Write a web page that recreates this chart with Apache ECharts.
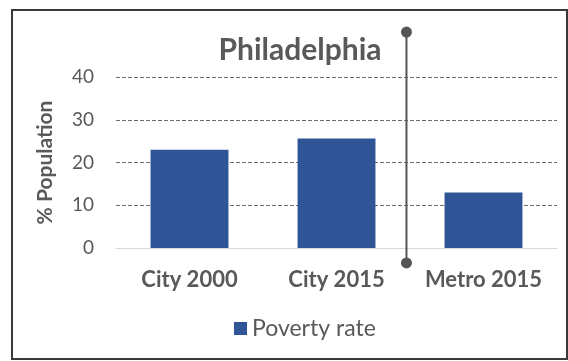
<!DOCTYPE html>
<html>
<head>
<meta charset="utf-8">
<script src="https://cdn.jsdelivr.net/npm/echarts@6/dist/echarts.min.js"></script>
<style>
  html, body { margin: 0; padding: 0; background: #fff; }
  #frame { position: absolute; left: 11px; top: 9px; width: 553px; height: 347px; border: 2px solid #3a3a3a; }
  #chart { position: absolute; left: 0; top: 0; width: 568px; height: 361px; }
</style>
</head>
<body>
<div id="frame"></div>
<div id="chart"></div>
<script>
// Poverty rate, share of population (%)
const categories = ['City 2000', 'City 2015', 'Metro 2015'];
const povertyRate = [23, 25.6, 13];
const yTicks = { min: 0, max: 40, interval: 10 };

// Divider between city and metro figures (x in category units, y in % units)
const dividerX = [1.976, 1.976];
const dividerY = [50.5, -3.5];

const FONT = 'Lato, "Open Sans", sans-serif';
const GREY = '#595959';

const chart = echarts.init(document.getElementById('chart'), null, { renderer: 'canvas' });
chart.setOption({
  animation: false,
  title: {
    text: 'Philadelphia',
    left: 295, top: 30, textAlign: 'center',
    textStyle: { fontFamily: FONT, fontSize: 30, fontWeight: 'bold', color: GREY }
  },
  legend: {
    top: 312, left: 229,
    itemWidth: 13, itemHeight: 13, itemGap: 6,
    icon: 'rect',
    textStyle: { fontFamily: FONT, fontSize: 23, color: GREY },
    data: ['Poverty rate']
  },
  grid: { left: 116, right: 11, top: 77, bottom: 113 },
  xAxis: [
    {
      type: 'category', data: categories,
      axisLine: { show: true, lineStyle: { color: '#d9d9d9', width: 1 } },
      axisTick: { show: false },
      axisLabel: { interval: 0, hideOverlap: false, margin: 21, fontFamily: FONT, fontSize: 22, fontWeight: 'bold', color: GREY }
    },
    { type: 'value', min: 0, max: 3, show: false }
  ],
  yAxis: {
    type: 'value', min: yTicks.min, max: yTicks.max, interval: yTicks.interval,
    name: '% Population', nameLocation: 'middle', nameGap: 60, nameRotate: 90,
    nameTextStyle: { fontFamily: FONT, fontSize: 21, fontWeight: 'bold', color: GREY },
    axisLine: { show: false }, axisTick: { show: false },
    axisLabel: { margin: 22, fontFamily: FONT, fontSize: 19, color: GREY },
    splitLine: { lineStyle: { type: [4, 2], color: '#6e6e6e', width: 1 } }
  },
  series: [
    {
      name: 'Poverty rate', type: 'bar', data: povertyRate, barWidth: '53%',
      itemStyle: { color: '#2F5597' }
    },
    {
      name: 'divider', type: 'line', xAxisIndex: 1, clip: false,
      data: dividerX.map((x, i) => [x, dividerY[i]]),
      symbol: 'circle', symbolSize: 11, showSymbol: true,
      lineStyle: { color: '#555', width: 2 },
      itemStyle: { color: '#555' },
      silent: true, z: 5
    }
  ]
});
</script>
</body>
</html>
